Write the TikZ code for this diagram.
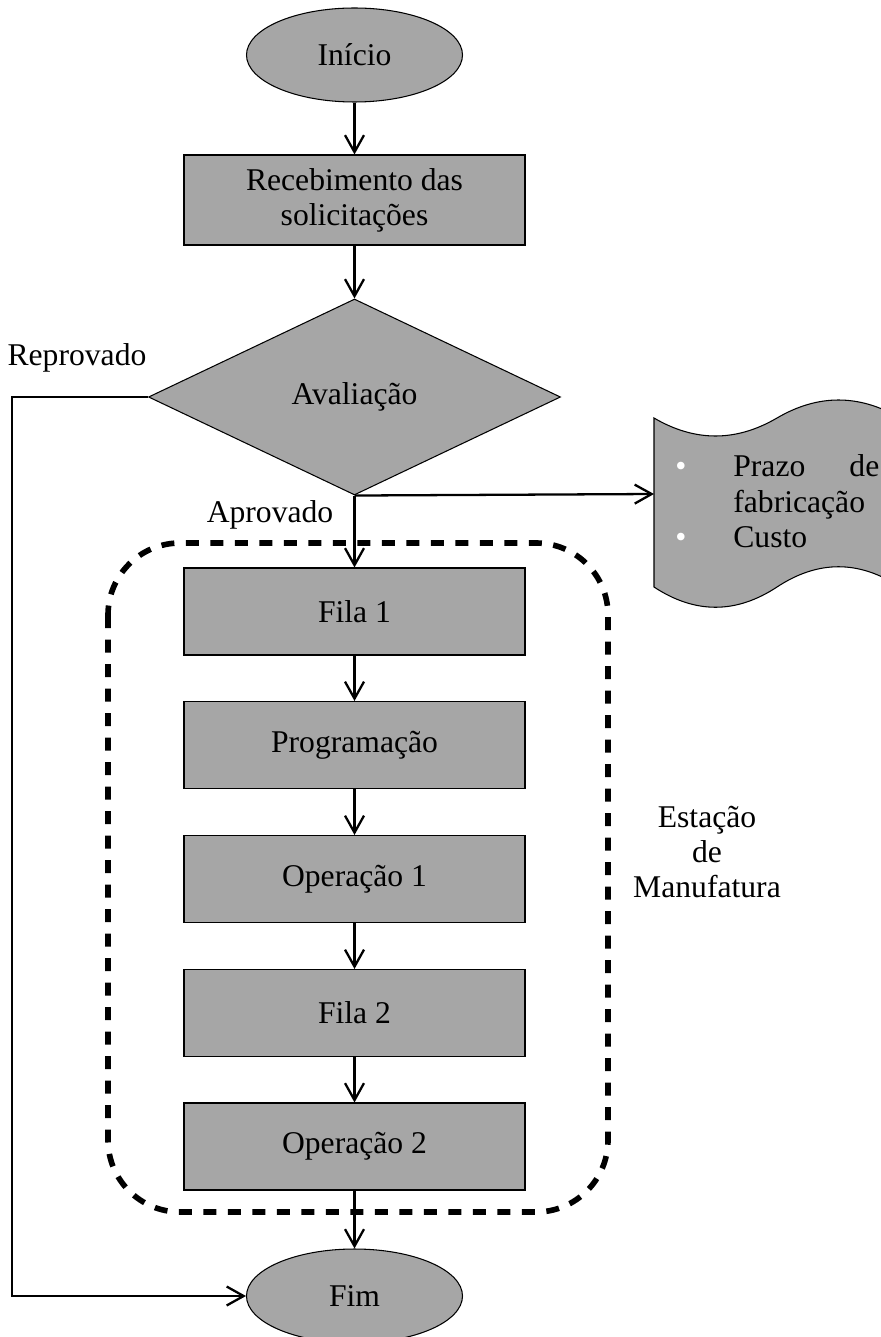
\documentclass[tikz,border=0pt]{standalone}
\usepackage{fontspec}
\setmainfont{Liberation Serif}
\usepackage{tikz}
\usetikzlibrary{positioning,arrows.meta,shapes.geometric}
\definecolor{boxgray}{RGB}{166,166,166}

\begin{document}
\begin{tikzpicture}[
  font=\fontsize{18}{20}\selectfont,
  term/.style={ellipse, draw, fill=boxgray, line width=0.6pt, minimum width=4.32cm, minimum height=1.88cm, inner sep=0pt},
  proc/.style={rectangle, draw, fill=boxgray, line width=0.6pt, minimum width=6.82cm, minimum height=1.74cm, align=center, inner sep=2pt},
  dec/.style={diamond, draw, fill=boxgray, line width=0.6pt, minimum width=8.24cm, minimum height=3.92cm, inner sep=0pt},
  ar/.style={-{Straight Barb[length=3.4mm,width=3.8mm]}, line width=1.3pt},
  station/.style={draw, line width=3.2pt, dash pattern=on 0.26cm off 0.23cm, rounded corners=1.44cm},
  lbl/.style={inner sep=0pt, align=center},
]
\useasboundingbox (0,0) rectangle (17.62,-26.74);
\def\xc{7.09}
% ---- main column ----
\node[term] (start) at (\xc,-1.1) {Início};
\node[proc, minimum height=1.8cm] (recv) at (\xc,-4.0) {Recebimento das\\solicitações};
\node[dec] (aval) at (\xc,-7.94) {Avaliação};
\node[proc] (fila1) at (\xc,-12.23) {Fila 1};
\node[proc] (prog) at (\xc,-14.9) {Programação};
\node[proc] (op1) at (\xc,-17.58) {Operação 1};
\node[proc] (fila2) at (\xc,-20.26) {Fila 2};
\node[proc] (op2) at (\xc,-22.93) {Operação 2};
\node[term] (fim) at (\xc,-25.92) {Fim};
% ---- labels ----
\node[lbl] (repr) at (1.54,-7.16) {Reprovado};
\node[lbl] (apro) at (5.4,-10.3) {Aprovado};
\node[lbl] (estacao) at (14.14,-17.04) {Estação\\de\\Manufatura};
% ---- document (tape) ----
\draw[fill=boxgray, line width=0.6pt] (13.08,-8.36) .. controls (13.9,-8.84) and (14.72,-8.84) .. (15.54,-8.36)
  .. controls (16.36,-7.88) and (17.18,-7.88) .. (18.0,-8.36) -- (18.0,-11.74)
  .. controls (17.18,-11.2) and (16.36,-11.2) .. (15.54,-11.74)
  .. controls (14.72,-12.28) and (13.9,-12.28) .. (13.08,-11.74) -- cycle;
\coordinate (docin) at (13.08,-9.88);
\node[anchor=west, inner sep=0pt] (doctext) at (13.5,-10.1) {\begin{tabular}{@{}p{1.16cm}@{}p{2.92cm}@{}}
  \textcolor{white}{\textbullet} & Prazo\hfill de\\
  & fabricação\\
  \textcolor{white}{\textbullet} & Custo
\end{tabular}};
% ---- station frame ----
\draw[station] (2.16,-10.86) rectangle (12.16,-24.24);
% ---- arrows ----
\coordinate (repx) at (0.24,0);
\draw[ar] (start) -- (recv);
\draw[ar] (recv) -- (aval);
\draw[ar] (aval.south) -- (fila1);
\draw[ar] (aval.south) -- (docin);
\foreach \a/\b in {fila1/prog, prog/op1, op1/fila2, fila2/op2, op2/fim}
  \draw[ar] (\a) -- (\b);
\draw[ar] (aval.west) -- (aval.west -| repx) |- (fim.west);
\end{tikzpicture}
\end{document}
